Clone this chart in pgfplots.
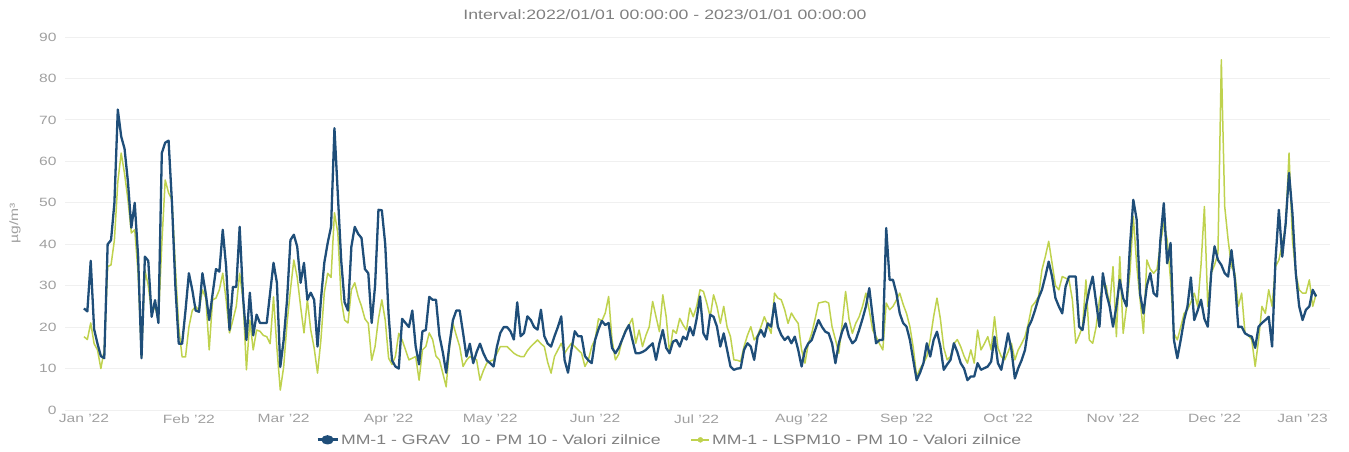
\documentclass[border=0pt]{standalone}
\usepackage{pgfplots}
\pgfplotsset{compat=1.18}
\usepackage{pgfplotstable}
\usepackage{fontspec}
\setmainfont{Liberation Sans}[FakeStretch=1.3]
\definecolor{cblue}{HTML}{1F4E79}
\definecolor{cgreen}{HTML}{BFD24E}
\definecolor{lbl}{HTML}{A0A0A0}
\definecolor{ttl}{HTML}{808080}

\pgfplotstableread{
d b g
0 24.5 17.7
1 23.8 17
2 36 21
3 19.5 16
4 16 14.5
5 13 10
6 12.5 14.5
7 40 34.6
8 41 35
9 50 41
10 72.5 55
11 66 62
12 63 57
13 55 50.7
14 44 42.7
15 50 43.5
16 37 33
17 12.5 12.8
18 37 33.8
19 36 30
20 22.5 23.4
21 26.5 25
22 21 21.7
23 62 40
24 64.5 55.5
25 65 52.4
26 50 50.7
27 30 34.6
28 16 20
29 16 12.8
30 24 12.8
31 33 20
32 29 24
33 24 25
34 23.7 24
35 33 29
36 28 27
37 21.7 14.5
38 28 26.6
39 34 27
40 33.4 29
41 43.5 33
42 34.6 26.6
43 19.3 18.6
44 29.7 21.7
45 29.7 25
46 44.2 33
47 27.3 26.6
48 16.9 9.7
49 28.3 21.7
50 18 14.5
51 23 19.3
52 21 19
53 21 18
54 21 17.7
55 28.3 16
56 35.5 27.3
57 30.7 15
58 10.4 4.8
59 16.9 10.4
60 26.6 21
61 41 29
62 42.3 36.2
63 39.4 32
64 30.7 25
65 35.5 18.6
66 26.6 26.6
67 28.3 19.3
68 26.6 15
69 15.3 8.9
70 26.6 16.9
71 35.5 28.3
72 40.3 33
73 44.2 32
74 68 47.6
75 52 42.7
76 36 26.6
77 26 21.7
78 24 21
79 39.4 29
80 44.2 30.7
81 42.5 27.4
82 41.5 25
83 34 22
84 33 20.9
85 21 12
86 30 15.3
87 48.3 22
88 48.2 26.6
89 40 21.7
90 23 12.5
91 12 11
92 10.5 12.9
93 10 18.5
94 22 16.9
95 21 14.5
96 20 12.1
97 24 12.5
98 15.3 12.9
99 11 7.2
100 19 14.5
101 19.3 15.3
102 27.3 18.6
103 26.6 17
104 26.6 13
105 18 12.1
106 14 8.9
107 9 5.6
108 16 15.3
109 21.7 20.9
110 24 18
111 24 15.3
112 18.6 10.5
113 12.9 12
114 16 12.9
115 11.3 12.5
116 14 12.1
117 16 7.2
118 13.7 9.5
119 12 11.3
120 11.3 11.8
121 10.5 12.1
122 15.3 13.7
123 18.6 15.3
124 20 15.3
125 20 15.3
126 19 14.5
127 17 13.7
128 26 13.2
129 17.8 12.9
130 18.6 12.9
131 22.6 14.3
132 21.7 15.3
133 20 16.1
134 19.4 16.9
135 24.2 16
136 17.8 15.3
137 16 11.5
138 15.3 8.9
139 17.8 12.9
140 20 14.5
141 22.6 16.1
142 12 13.7
143 9 15
144 14.5 16.1
145 19 15.3
146 17.8 14.5
147 17.8 13.7
148 13 10.5
149 12 12
150 11.3 15.3
151 16.9 17
152 19.5 22
153 21.5 21.5
154 20.5 23.4
155 21 27.4
156 15 16.9
157 13.7 12.1
158 15 13.5
159 17 17
160 19 19.3
161 20.5 20.5
162 17 22.1
163 13.7 16.1
164 13.7 19.3
165 14 15.3
166 14.5 18
167 15.3 20.1
168 16.1 26.2
169 12.1 22.5
170 16.1 18.9
171 19.3 27.8
172 15 22.5
173 13.7 13.7
174 16.5 19.3
175 16.9 18.5
176 15.3 22.1
177 17.7 20.5
178 17 19.3
179 20 24.6
180 18 22.5
181 22 25
182 27.4 29
183 18.5 28.6
184 17 25.8
185 23 22.5
186 22.5 27.8
187 20.1 25
188 15.3 20.9
189 18.5 25
190 14.5 20
191 10.5 17.7
192 9.7 12.1
193 10 12
194 10.1 11.7
195 14.5 15.3
196 16.1 18
197 15.3 20.1
198 12.1 16.9
199 17.7 18
200 19.3 20.1
201 17.7 22.5
202 20.9 20.5
203 20.1 18.5
204 25.8 28.2
205 20.1 27
206 18.1 26.6
207 16.9 24.2
208 17.7 20.9
209 16.1 23.4
210 17.7 22
211 14.5 20.9
212 10.5 14.5
213 14.5 11.3
214 16.1 16.1
215 16.9 18.5
216 19.3 22
217 21.7 25.8
218 20.1 26
219 18.9 26.2
220 18.5 25.8
221 16.1 20.1
222 11.3 17
223 16.1 13.7
224 19 20.9
225 20.9 28.6
226 17.7 22
227 16.1 18.5
228 16.9 20.9
229 19.3 22.5
230 22 25
231 25 28.2
232 29.4 24
233 22.5 19.3
234 16.1 17.7
235 16.9 16
236 16.9 14.5
237 43.9 25.8
238 31.4 24.2
239 31.4 25
240 28.2 26.5
241 23.3 28.2
242 21 25.5
243 20.1 23.3
244 16.9 20.1
245 12 15
246 7.2 8.1
247 9 10
248 11.3 11.3
249 16.1 12.9
250 12.9 17
251 16.9 22.5
252 18.9 27
253 15.3 22
254 9.7 15
255 11 12.1
256 12.1 12.9
257 16.1 16
258 14 17
259 11.3 15.3
260 10 13
261 7.2 11.3
262 8.1 14.5
263 8.1 11.3
264 11.3 19.3
265 9.7 14.5
266 10.1 16
267 10.5 17.7
268 11.7 14.5
269 17.7 22.5
270 11.3 15
271 9.7 12.9
272 14 12.1
273 18.5 14
274 14.5 16.1
275 7.6 12.1
276 10.1 14.5
277 12 16
278 14.5 17.7
279 20 20.9
280 21.7 25
281 24.2 26
282 27 27.4
283 29 33.8
284 32.2 37
285 35.8 40.7
286 32.2 35.4
287 27 30
288 25 29
289 23.3 32.2
290 29.8 31.8
291 32.2 31.4
292 32.2 26.6
293 32.2 16.1
294 20.1 18
295 19.3 20.1
296 25 31.4
297 29 16.9
298 32.2 16.1
299 26 20
300 20.1 26.6
301 33 30
302 28.2 30
303 25 25
304 20.1 34.6
305 25 17.7
306 31.4 37
307 27 18.5
308 25 25
309 39.5 33
310 50.7 46.7
311 45.9 35
312 28 26.6
313 23.3 18.5
314 30 36.2
315 33 34
316 28.2 33
317 27.4 34
318 41.1 40
319 49.9 45.1
320 35.4 41.1
321 40.3 31.4
322 16.9 18.5
323 12.5 16.9
324 16.9 20
325 21.7 23.3
326 25 24.2
327 32 26
328 21.7 28.2
329 24 25
330 26.6 35
331 22 49.1
332 20.1 25
333 33 33
334 39.5 35
335 36.2 37.8
336 35 84.5
337 33 49.1
338 32.2 41.1
339 38.6 34.6
340 31.4 33
341 20 25
342 20.1 28.2
343 18.5 18.5
344 18 18
345 17.7 16.9
346 15 10.5
347 20.1 16.9
348 21 25
349 21.7 23.3
350 22.5 29
351 15.3 25
352 36.2 34.6
353 48.3 36.2
354 37 40
355 45 44.3
356 57.2 62
357 47.5 41.1
358 33 33
359 25 29
360 21.7 28.2
361 24.2 28.2
362 25 31.4
363 29 25
364 27.4 28
}\datatable

\begin{document}
\begin{tikzpicture}
\path[use as bounding box] (0,0) rectangle (1349pt,451pt);
\begin{axis}[
  at={(65pt,41pt)}, anchor=south west, scale only axis,
  width=1265pt, height=373pt,
  xmin=-5.6, xmax=368.1, ymin=0, ymax=90,
  axis line style={draw=none}, major tick style={draw=none}, minor tick style={draw=none},
  ytick={0,10,...,90},
  xtick={0,31,59,90,120,151,181,212,243,273,304,334,360},
  xticklabels={Jan '22,Feb '22,Mar '22,Apr '22,May '22,Jun '22,Jul '22,Aug '22,Sep '22,Oct '22,Nov '22,Dec '22,Jan '23},
  ymajorgrids, grid style={draw=black!6, line width=0.8pt},
  /pgf/number format/assume math mode=true,
  ticklabel style={font=\fontsize{12}{14}\selectfont, text=lbl},
  yticklabel style={xshift=-5pt},
  xticklabel style={yshift=-1pt},
  legend style={at={(0.478,-0.08)}, anchor=center, legend columns=2, draw=none, fill=none,
    font=\fontsize{13.6}{16}\selectfont, text=ttl,
    /tikz/every even column/.append style={column sep=28pt}},
  legend cell align=left,
]
\addplot[cgreen, line width=1.5pt, line join=round, forget plot] table[x=d, y=g] {\datatable};
\addplot[cblue, line width=2.3pt, line join=round,
  legend image code/.code={\draw[cblue, line width=3pt] (0pt,0pt) -- (20pt,0pt); \fill[cblue] (10pt,0pt) ellipse (5pt and 3.5pt);}]
  table[x=d, y=b] {\datatable};
\addlegendentry{MM-1 - GRAV\ \ 10 - PM 10 - Valori zilnice}
\addlegendimage{legend image code/.code={\draw[cgreen, line width=1.5pt] (0pt,0pt) -- (18pt,0pt); \fill[cgreen] (9pt,0pt) circle (2.5pt);}}
\addlegendentry{MM-1 - LSPM10 - PM 10 - Valori zilnice}
\end{axis}
\node[font=\fontsize{13.6}{16}\selectfont, text=ttl] at (665pt,436pt) {Interval:2022/01/01 00:00:00 - 2023/01/01 00:00:00};
\node[font=\fontsize{12}{14}\selectfont, text=lbl, rotate=90] at (15pt,228pt) {µg/m³};
\end{tikzpicture}
\end{document}
